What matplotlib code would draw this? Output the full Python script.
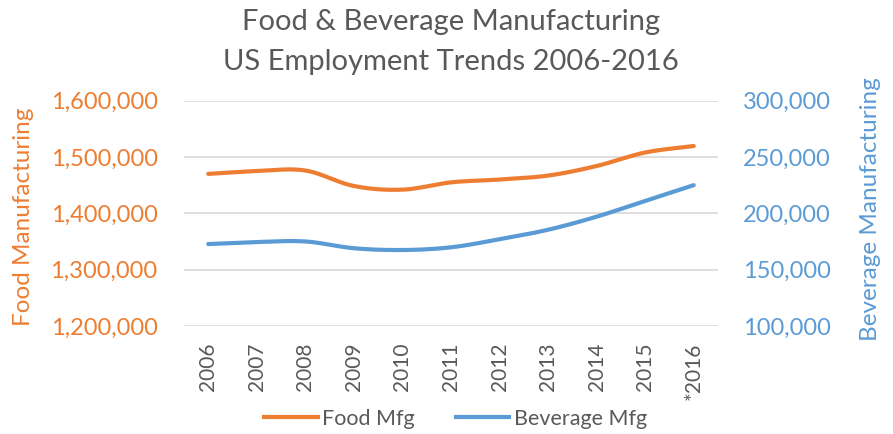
import matplotlib
matplotlib.use('Agg')
import matplotlib.pyplot as plt
from matplotlib.ticker import FuncFormatter
from matplotlib.lines import Line2D
import numpy as np

years = ['2006', '2007', '2008', '2009', '2010', '2011', '2012', '2013', '2014', '2015', '*2016']
food = [1470000, 1475000, 1476000, 1448500, 1442000, 1455000, 1460000, 1467000, 1484000, 1508000, 1519500]
beverage = [172700, 174500, 175000, 169000, 167400, 169800, 177000, 185400, 197000, 211000, 225000]

ORANGE = '#ED7D31'
BLUE = '#5B9BD5'
GRAY = '#595959'

plt.rcParams['font.family'] = ['Lato', 'DejaVu Sans']


def smooth(y, n=20):
    # catmull-rom spline through the points, like excel's smoothed line
    y = np.asarray(y, dtype=float)
    x = np.arange(len(y), dtype=float)
    p = np.concatenate([[2 * y[0] - y[1]], y, [2 * y[-1] - y[-2]]])
    xs, ys = [], []
    for i in range(len(y) - 1):
        t = np.linspace(0, 1, n, endpoint=False)
        p0, p1, p2, p3 = p[i], p[i + 1], p[i + 2], p[i + 3]
        yy = 0.5 * (2 * p1 + (-p0 + p2) * t + (2 * p0 - 5 * p1 + 4 * p2 - p3) * t ** 2
                    + (-p0 + 3 * p1 - 3 * p2 + p3) * t ** 3)
        xs.extend(x[i] + t)
        ys.extend(yy)
    xs.append(x[-1])
    ys.append(y[-1])
    return np.array(xs), np.array(ys)


fig = plt.figure(figsize=(8.93, 4.34), dpi=100)
ax = fig.add_axes([0.206, 0.249, 0.598, 0.519])
ax2 = ax.twinx()

xs, ys = smooth(food)
ax.plot(xs, ys, color=ORANGE, lw=3, solid_capstyle='round', zorder=3)
xs, ys = smooth(beverage)
ax2.plot(xs, ys, color=BLUE, lw=3, solid_capstyle='round', zorder=3)

ax.set_xlim(-0.5, len(years) - 0.5)
ax.set_ylim(1200000, 1600000)
ax.set_yticks(np.arange(1200000, 1600001, 100000))
ax2.set_ylim(100000, 300000)
ax2.set_yticks(np.arange(100000, 300001, 50000))

fmt = FuncFormatter(lambda v, p: '{:,.0f}'.format(v))
ax.yaxis.set_major_formatter(fmt)
ax2.yaxis.set_major_formatter(fmt)

ax.set_xticks(range(len(years)))
ax.set_xticklabels(years, rotation=90, fontsize=15, color=GRAY)
ax.tick_params(axis='x', length=0, pad=12)
ax.tick_params(axis='y', length=0, pad=19, labelsize=17, labelcolor=ORANGE)
ax2.tick_params(axis='y', length=0, pad=18, labelsize=17, labelcolor=BLUE)

ax.grid(axis='y', color='#D9D9D9', lw=1.2)
ax.set_axisbelow(True)
for a in (ax, ax2):
    for s in a.spines.values():
        s.set_visible(False)

fig.text(0.026, 0.501, 'Food Manufacturing', rotation=90, ha='center', va='center',
         fontsize=17.5, color=ORANGE)
fig.text(0.975, 0.518, 'Beverage Manufacturing', rotation=90, ha='center', va='center',
         fontsize=17.5, color=BLUE)

fig.text(0.505, 0.95, 'Food & Beverage Manufacturing', ha='center', va='center',
         fontsize=21, color=GRAY)
fig.text(0.505, 0.857, 'US Employment Trends 2006-2016', ha='center', va='center',
         fontsize=21, color=GRAY)

handles = [Line2D([], [], color=ORANGE, lw=3), Line2D([], [], color=BLUE, lw=3)]
fig.legend(handles, ['Food Mfg', 'Beverage Mfg'], loc='center', bbox_to_anchor=(0.51, 0.035),
           ncol=2, frameon=False, fontsize=15.5, labelcolor=GRAY, handlelength=2.5,
           handletextpad=0.2, columnspacing=1.9)

fig.savefig('out.png', dpi=100)
